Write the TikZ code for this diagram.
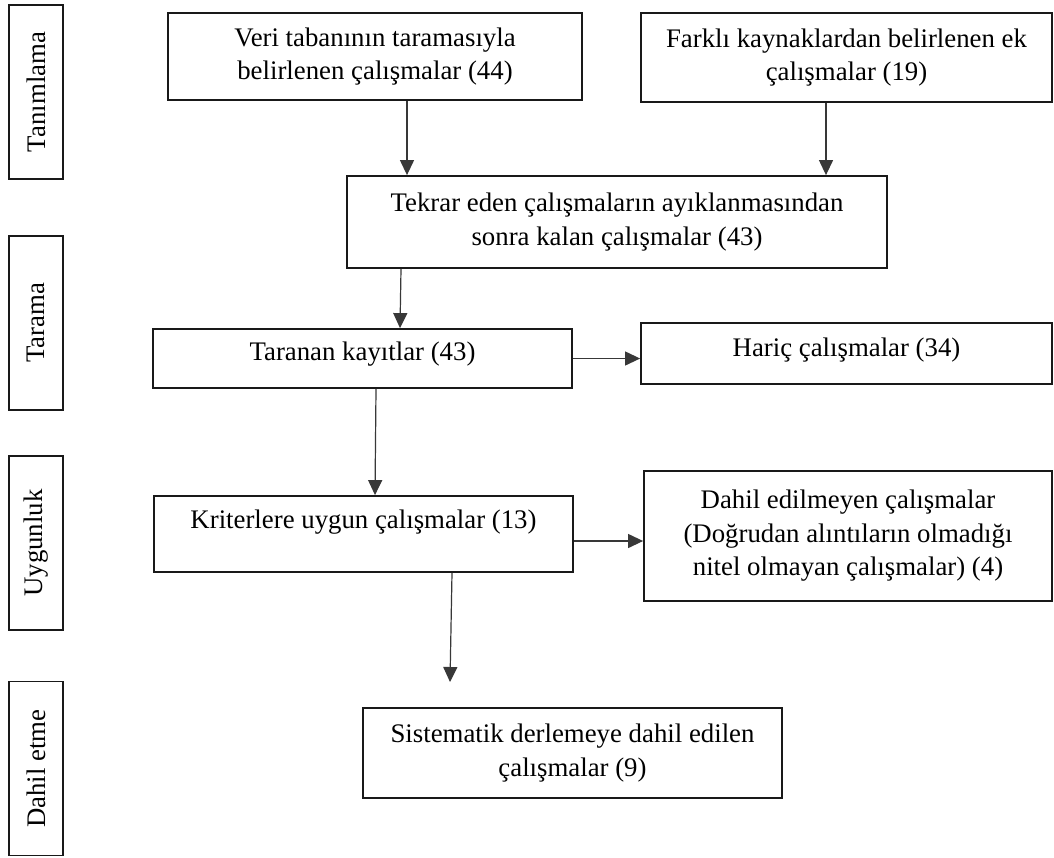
\documentclass[tikz,border=0pt]{standalone}
\usepackage{fontspec}
\setmainfont{Liberation Serif}
\usetikzlibrary{arrows.meta,calc}
\begin{document}
\begin{tikzpicture}[x=1pt,y=-1pt,
  box/.style={draw=black!90, line width=1.8pt, inner sep=0pt, align=center,
    font=\fontsize{26.8}{33.5}\selectfont},
  lbl/.style={box, rotate=90, minimum width=174pt, minimum height=54pt},
  arr/.style={draw=black!78, line width=1.2pt, -{Triangle[length=15pt,width=14pt]}}]
\fill[white] (0,0) rectangle (1054,857);
\useasboundingbox (0,0) rectangle (1054,857);

% stage labels
\node[lbl] (l1) at (36,92) {Tanımlama};
\node[lbl] (l2) at (36,323) {Tarama};
\node[lbl] (l3) at (36,543) {Uygunluk};
\node[lbl] (l4) at (36,768.5) {Dahil etme};

% boxes
\node[box, minimum width=414pt, minimum height=87pt] (veri) at (375,56.5)
  {Veri tabanının taramasıyla\\belirlenen çalışmalar (44)};
\node[box, minimum width=411pt, minimum height=89pt] (farkli) at (846.5,57.5)
  {Farklı kaynaklardan belirlenen ek\\çalışmalar (19)};
\node[box, minimum width=540pt, minimum height=92pt] (tekrar) at (617,222)
  {Tekrar eden çalışmaların ayıklanmasından\\sonra kalan çalışmalar (43)};
\node[box, minimum width=419pt, minimum height=59pt, text height=18pt, text depth=15pt] (taranan) at (362.5,358.5)
  {Taranan kayıtlar (43)};
\node[box, minimum width=411pt, minimum height=61pt, text height=18pt, text depth=13pt] (haric) at (846.5,353.5)
  {Hariç çalışmalar (34)};
\node[box, minimum width=419pt, minimum height=76pt, text height=18pt, text depth=30pt] (kriter) at (363.5,534)
  {Kriterlere uygun çalışmalar (13)};
\node[box, minimum width=408pt, minimum height=130pt] (dahilme) at (848,536)
  {Dahil edilmeyen çalışmalar\\(Doğrudan alıntıların olmadığı\\nitel olmayan çalışmalar) (4)};
\node[box, minimum width=419pt, minimum height=90pt] (sist) at (572.5,753)
  {Sistematik derlemeye dahil edilen\\çalışmalar (9)};

\coordinate (end) at (450,682);

% connectors
\draw[arr] ([xshift=32pt]veri.south) -- ([xshift=-210pt]tekrar.north);
\draw[arr] ([xshift=-20.5pt]farkli.south) -- ([xshift=209pt]tekrar.north);
\draw[arr] ([xshift=-216pt]tekrar.south) -- ([xshift=37.5pt]taranan.north);
\draw[arr] ([xshift=13.5pt]taranan.south) -- ([xshift=11.5pt]kriter.north);
\draw[arr] (taranan.east) -- (taranan.east -| haric.west);
\coordinate (k1) at ([yshift=-7pt]kriter.east);
\draw[arr] (k1) -- (k1 -| dahilme.west);
\draw[arr] ([xshift=88.5pt]kriter.south) -- (end);
\end{tikzpicture}
\end{document}
